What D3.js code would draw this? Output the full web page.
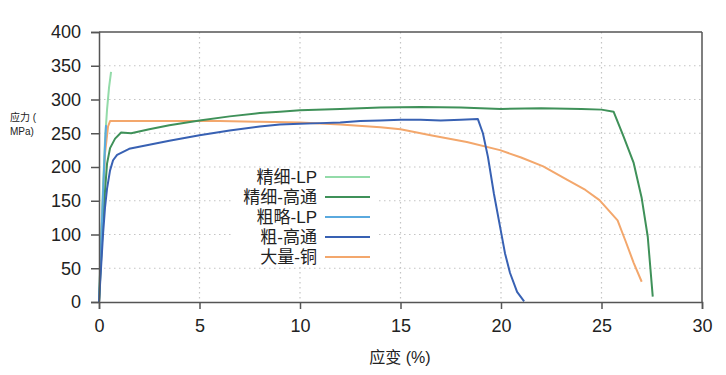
<!DOCTYPE html>
<html>
<head>
<meta charset="utf-8">
<script src="https://d3js.org/d3.v7.min.js"></script>
<style>
  body { margin: 0; background: #fff; }
  text { font-family: "Liberation Sans", Arial, "Noto Sans CJK SC", sans-serif; fill: #222; }
</style>
</head>
<body>
<svg width="726" height="375"></svg>
<script>
// series names, legend order
var names = ["精细-LP", "精细-高通", "粗略-LP", "粗-高通", "大量-铜"];
var colors = ["#93dba9", "#3f9159", "#5aa9de", "#3861b3", "#f3a76c"];

// strain (%) / stress (MPa) pairs
var fineLP = [[0,0],[0.1,90],[0.2,170],[0.3,240],[0.4,285],[0.5,318],[0.6,341]];
var fineHigh = [[0,0],[0.1,60],[0.2,118],[0.3,165],[0.4,205],[0.55,228],[0.8,242],[1.1,251],
  [1.6,250],[2.5,256],[3.5,262],[5,269],[6.5,275],[8,280],[9,282],[10,284],[12,286],[14,288],
  [16,289],[18,288],[20,286],[22,287],[24,286],[25,285],[25.6,282],[26.1,245],[26.6,206],
  [27.0,154],[27.3,97],[27.55,8]];
var coarseLP = [[0,0],[0.1,80],[0.2,160],[0.3,232],[0.35,262]];
var coarseHigh = [[0,0],[0.1,50],[0.2,100],[0.3,140],[0.4,168],[0.55,195],[0.7,210],[0.9,218],
  [1.5,227],[2.5,233],[3.5,239],[5,247],[6.5,254],[8,260],[9,263],[10,264],[11,265],[12,266],
  [13,268],[14,269],[15,270],[16,270],[17,269],[18,270],[18.85,271],[19.1,250],[19.35,215],
  [19.65,160],[19.95,112],[20.2,72],[20.45,43],[20.8,15],[21.15,1]];
var bulkCu = [[0,0],[0.15,120],[0.3,220],[0.45,260],[0.55,268],[2,268],[4,268],[6,268],[8,267],
  [10,266],[12,263],[14,259],[15,256],[16.5,247],[18.3,237],[19.95,225],[21,214],[22.1,201],
  [23.3,181],[24.2,166],[24.9,151],[25.8,121],[26.2,90],[26.6,58],[27.0,30]];
var series = [fineLP, fineHigh, coarseLP, coarseHigh, bulkCu];

var xTicks = [0, 5, 10, 15, 20, 25, 30];
var yTicks = [0, 50, 100, 150, 200, 250, 300, 350, 400];

var svg = d3.select("svg");
var x = d3.scaleLinear().domain([0, 30]).range([99, 702]);
var y = d3.scaleLinear().domain([0, 400]).range([302, 32]);

// dotted grid
svg.append("g").selectAll("line").data(xTicks.slice(1, -1)).enter().append("line")
  .attr("x1", d => x(d)).attr("x2", d => x(d)).attr("y1", y(400)).attr("y2", y(0))
  .attr("stroke", "#c4c4c4").attr("stroke-width", 1.2).attr("stroke-dasharray", "1.5,3.5");
svg.append("g").selectAll("line").data(yTicks.slice(1, -1)).enter().append("line")
  .attr("x1", x(0)).attr("x2", x(30)).attr("y1", d => y(d)).attr("y2", d => y(d))
  .attr("stroke", "#c4c4c4").attr("stroke-width", 1.2).attr("stroke-dasharray", "1.5,3.5");

// legend background hides the grid behind it
svg.append("rect").attr("x", 232).attr("y", 170).attr("width", 146).attr("height", 96).attr("fill", "#fff");

// curves
var line = d3.line().x(d => x(d[0])).y(d => y(d[1]));
var order = [4, 0, 1, 2, 3];
order.forEach(function(i) {
  svg.append("path").datum(series[i]).attr("d", line)
    .attr("fill", "none").attr("stroke", colors[i]).attr("stroke-width", 2)
    .attr("stroke-linejoin", "round");
});

// frame
svg.append("line").attr("x1", x(0)).attr("x2", x(30)).attr("y1", y(400)).attr("y2", y(400))
  .attr("stroke", "#555").attr("stroke-width", 1.5);
svg.append("line").attr("x1", x(30)).attr("x2", x(30)).attr("y1", y(400)).attr("y2", y(0))
  .attr("stroke", "#555").attr("stroke-width", 1.5);

// axes
var xAxis = svg.append("g").attr("transform", "translate(0," + y(0) + ")")
  .call(d3.axisBottom(x).tickValues(xTicks).tickSize(7).tickPadding(10));
var yAxis = svg.append("g").attr("transform", "translate(" + x(0) + ",0)")
  .call(d3.axisLeft(y).tickValues(yTicks).tickSize(8).tickPadding(10));
[xAxis, yAxis].forEach(function(g) {
  g.select(".domain").attr("stroke", "#555").attr("stroke-width", 1.5);
  g.selectAll(".tick line").attr("stroke", "#555").attr("stroke-width", 1.5);
  g.selectAll(".tick text").attr("font-size", 18).attr("fill", "#222")
    .attr("font-family", "'Liberation Sans', Arial, sans-serif");
});

// axis titles
svg.append("text").attr("x", 400).attr("y", 363).attr("text-anchor", "middle")
  .attr("font-size", 16).text("应变 (%)");
svg.append("text").attr("x", 10).attr("y", 121).attr("font-size", 10).text("应力 (");
svg.append("text").attr("x", 10).attr("y", 135).attr("font-size", 10).text("MPa)");

// legend
var leg = svg.append("g").selectAll("g").data(names).enter().append("g")
  .attr("transform", (d, i) => "translate(0," + [177, 197, 217, 237, 257][i] + ")");
leg.append("text").attr("x", 317).attr("y", 0).attr("dy", "0.35em")
  .attr("text-anchor", "end").attr("font-size", 17).text(d => d);
leg.append("line").attr("x1", 325).attr("x2", 370).attr("y1", 0).attr("y2", 0)
  .attr("stroke", (d, i) => colors[i]).attr("stroke-width", 2);
</script>
</body>
</html>
